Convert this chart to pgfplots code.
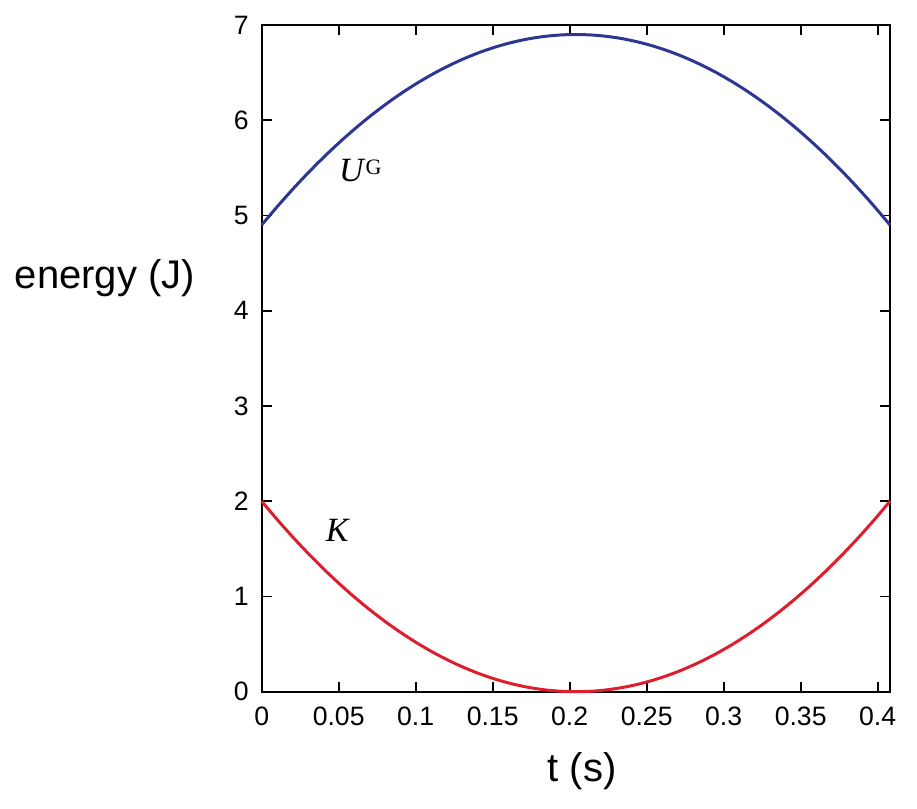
\documentclass[border=0pt]{standalone}
\usepackage{fontspec}
\setmainfont{Liberation Sans}
\newfontfamily\seriffont{Liberation Serif}
\usepackage{pgfplots}
\pgfplotsset{compat=1.18}
\definecolor{ublue}{RGB}{45,55,145}
\definecolor{kred}{RGB}{222,30,45}
\begin{document}
\begin{tikzpicture}
\begin{axis}[
  scale only axis,
  width=314.15pt, height=333.35pt,
  xmin=0, xmax=0.408, ymin=0, ymax=7,
  xtick={0,0.05,0.1,0.15,0.2,0.25,0.3,0.35,0.4},
  xticklabels={0,0.05,0.1,0.15,0.2,0.25,0.3,0.35,0.4},
  ytick={0,1,2,3,4,5,6,7},
  /pgf/number format/assume math mode=true,
  tick align=inside,
  major tick length=5pt,
  axis line style={line width=0.85pt},
  every tick/.style={black, line width=0.85pt},
  ticklabel style={font=\fontsize{13.3}{15}\selectfont},
  xticklabel style={yshift=-4pt},
  yticklabel style={xshift=-3pt},
  xlabel={t (s)},
  xlabel style={font=\fontsize{20}{24}\selectfont, at={(axis description cs:0.51,0)}, anchor=north, yshift=-27pt},
  ylabel={energy (J)},
  ylabel style={font=\fontsize{20}{24}\selectfont, rotate=-90, anchor=east, at={(axis description cs:-0.095,0.62)}},
  clip=false,
]
\addplot[ublue, line width=1.5pt, smooth] coordinates {
(0,4.9) (0.0102,5.095) (0.0204,5.28) (0.0306,5.455) (0.0408,5.62) (0.051,5.775)
(0.0612,5.92) (0.0714,6.055) (0.0816,6.18) (0.0918,6.295) (0.102,6.4)
(0.1122,6.495) (0.1224,6.58) (0.1326,6.655) (0.1428,6.72) (0.153,6.775)
(0.1632,6.82) (0.1734,6.855) (0.1836,6.88) (0.1938,6.895) (0.204,6.9)
(0.2142,6.895) (0.2244,6.88) (0.2346,6.855) (0.2448,6.82) (0.255,6.775)
(0.2652,6.72) (0.2754,6.655) (0.2856,6.58) (0.2958,6.495) (0.306,6.4)
(0.3162,6.295) (0.3264,6.18) (0.3366,6.055) (0.3468,5.92) (0.357,5.775)
(0.3672,5.62) (0.3774,5.455) (0.3876,5.28) (0.3978,5.095) (0.408,4.9)
};
\addplot[kred, line width=1.5pt, smooth] coordinates {
(0,2) (0.0102,1.805) (0.0204,1.62) (0.0306,1.445) (0.0408,1.28) (0.051,1.125)
(0.0612,0.98) (0.0714,0.845) (0.0816,0.72) (0.0918,0.605) (0.102,0.5)
(0.1122,0.405) (0.1224,0.32) (0.1326,0.245) (0.1428,0.18) (0.153,0.125)
(0.1632,0.08) (0.1734,0.045) (0.1836,0.02) (0.1938,0.005) (0.204,0)
(0.2142,0.005) (0.2244,0.02) (0.2346,0.045) (0.2448,0.08) (0.255,0.125)
(0.2652,0.18) (0.2754,0.245) (0.2856,0.32) (0.2958,0.405) (0.306,0.5)
(0.3162,0.605) (0.3264,0.72) (0.3366,0.845) (0.3468,0.98) (0.357,1.125)
(0.3672,1.28) (0.3774,1.445) (0.3876,1.62) (0.3978,1.805) (0.408,2)
};
\node[font=\seriffont\fontsize{17}{20}\selectfont] at (axis cs:0.064,5.47) {\textit{U}\raisebox{0.45ex}{\fontsize{11}{12}\selectfont G}};
\node[font=\seriffont\fontsize{17}{20}\selectfont] at (axis cs:0.0495,1.69) {\textit{K}};
\end{axis}
\pgfresetboundingbox
\path (-130.85pt,-58.65pt) rectangle (327.65pt,345.85pt);
\end{tikzpicture}
\end{document}
